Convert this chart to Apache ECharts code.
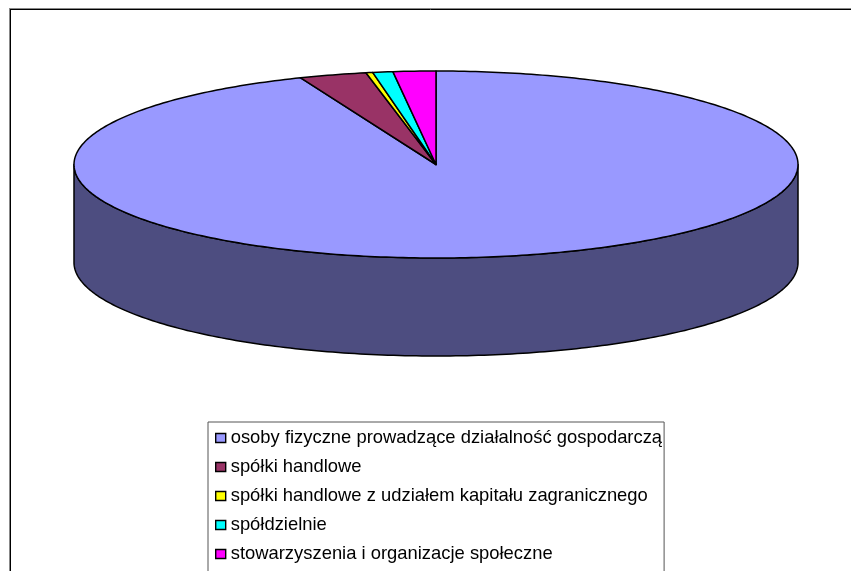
<!DOCTYPE html>
<html>
<head>
<meta charset="utf-8">
<title></title>
<style>
	html, body { margin: 0; padding: 0; background: #fff; }
	#main { width: 851px; height: 571px; }
</style>
<script src="https://cdn.jsdelivr.net/npm/echarts@6/dist/echarts.min.js"></script>
</head>
<body>
<div id="main"></div>
<script>
// values, share in percent
var categories = [
	'osoby fizyczne prowadzące działalność gospodarczą',
	'spółki handlowe',
	'spółki handlowe z udziałem kapitału zagranicznego',
	'spółdzielnie',
	'stowarzyszenia i organizacje społeczne'
];
var shares = [93.9, 3.0, 0.3, 0.9, 1.9];
var colors = ['#9999FF', '#993366', '#FFFF00', '#00FFFF', '#FF00FF'];
var sideColors = ['#4D4D80', '#4D1A33', '#808000', '#008080', '#800080'];

var cx = 436, cy = 164.5, rx = 362, ry = 93.5, depth = 98;
var total = shares.reduce(function (a, b) { return a + b; }, 0);

// point on the top ellipse, share counted clockwise from 12 o'clock
function rimPoint(p, dy) {
	var t = p / total * 2 * Math.PI;
	return [cx + rx * Math.sin(t), cy - ry * Math.cos(t) + (dy || 0)];
}

function arcPoints(from, to, dy) {
	var pts = [];
	var n = Math.max(2, Math.ceil((to - from) * 4));
	for (var i = 0; i <= n; i++) {
		pts.push(rimPoint(from + (to - from) * i / n, dy));
	}
	return pts;
}

var lineStyle = { stroke: '#000', lineWidth: 1.5, lineJoin: 'round' };

function makeRender(index) {
	return function (params, api) {
		var from = api.value(0), to = api.value(1);
		var children = [];
		// wall is only visible on the front half of the disc
		var a = Math.max(from, total * 0.25), b = Math.min(to, total * 0.75);
		if (b > a) {
			var wall = arcPoints(a, b, 0).concat(arcPoints(a, b, depth).reverse());
			children.push({
				type: 'polygon',
				shape: { points: wall },
				style: Object.assign({ fill: sideColors[index] }, lineStyle)
			});
		}
		var top = [[cx, cy]].concat(arcPoints(from, to, 0));
		children.push({
			type: 'polygon',
			shape: { points: top },
			style: Object.assign({ fill: colors[index] }, lineStyle)
		});
		return { type: 'group', children: children };
	};
}

// slices run clockwise from 12 o'clock
var series = [];
var running = 0;
for (var i = 0; i < categories.length; i++) {
	series.push({
		name: categories[i],
		type: 'custom',
		coordinateSystem: 'none',
		silent: true,
		animation: false,
		clip: false,
		itemStyle: { color: colors[i] },
		data: [[running, running + shares[i]]],
		renderItem: makeRender(i)
	});
	running += shares[i];
}

var chart = echarts.init(document.getElementById('main'));
chart.setOption({
	animation: false,
	// the frame only shows on top and left, the rest is cut off
	graphic: [
		{ type: 'line', silent: true, shape: { x1: 9, y1: 8.5, x2: 851, y2: 8.5 }, style: { stroke: '#888', lineWidth: 1 } },
		{ type: 'line', silent: true, shape: { x1: 10, y1: 9.5, x2: 851, y2: 9.5 }, style: { stroke: '#000', lineWidth: 1 } },
		{ type: 'line', silent: true, shape: { x1: 9.5, y1: 9, x2: 9.5, y2: 571 }, style: { stroke: '#888', lineWidth: 1 } },
		{ type: 'line', silent: true, shape: { x1: 10.5, y1: 9, x2: 10.5, y2: 571 }, style: { stroke: '#000', lineWidth: 1 } }
	],
	legend: {
		orient: 'vertical',
		left: 208,
		top: 422,
		height: 160,
		padding: [6, 2, 16, 7],
		itemGap: 9,
		itemWidth: 10,
		itemHeight: 9,
		icon: 'rect',
		borderColor: '#555',
		borderWidth: 1,
		selectedMode: false,
		textStyle: {
			fontFamily: 'Liberation Sans',
			fontSize: 18.4,
			color: '#000',
			lineHeight: 20
		},
		data: categories.map(function (name, i) {
			return { name: name, itemStyle: { color: colors[i], borderColor: '#000', borderWidth: 1.4 } };
		})
	},
	series: series
});
</script>
</body>
</html>
